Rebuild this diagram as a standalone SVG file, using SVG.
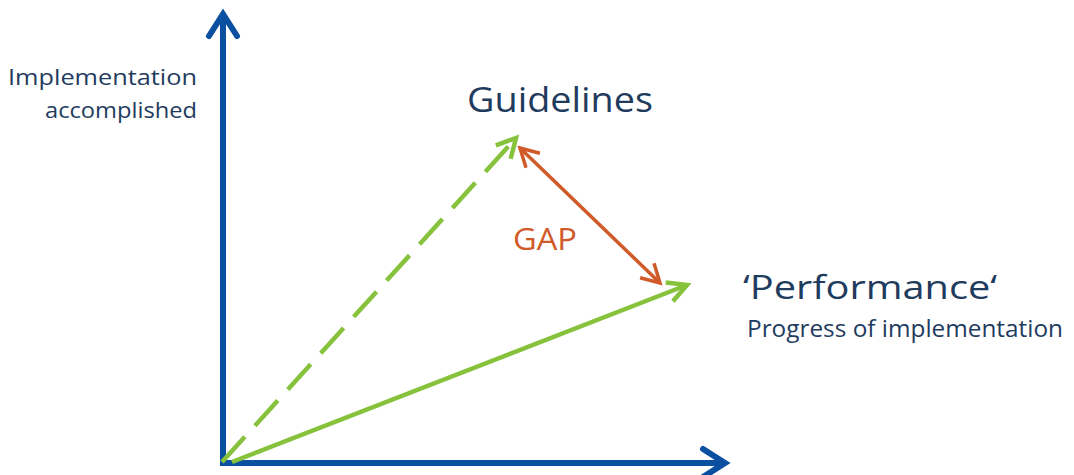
<svg xmlns="http://www.w3.org/2000/svg" width="1074" height="475" viewBox="0 0 1074 475">
<style>
.navy{fill:#1f3b5e;font-family:"Open Sans","Liberation Sans",sans-serif}
.gap{fill:#d05a28;font-family:"Open Sans","Liberation Sans",sans-serif}
.axis{stroke:#0b4fa0;stroke-width:6;fill:none}
.green{stroke:#86c23b;stroke-width:4.5;fill:none}
.orange{stroke:#d05a28;stroke-width:3.5;fill:none}
</style>
<defs>
<marker id="ab" markerUnits="userSpaceOnUse" markerWidth="60" markerHeight="60" refX="30" refY="30" orient="auto" viewBox="0 0 60 60">
<path d="M8,16 L30,30 L8,44" fill="none" stroke="#0b4fa0" stroke-width="6" stroke-linecap="round" stroke-linejoin="miter"/>
</marker>
<marker id="ag" markerUnits="userSpaceOnUse" markerWidth="60" markerHeight="60" refX="30" refY="30" orient="auto" viewBox="0 0 60 60">
<path d="M11,20 L30,30 L11,40" fill="none" stroke="#86c23b" stroke-width="4.5" stroke-linecap="butt" stroke-linejoin="miter"/>
</marker>
<marker id="ao" markerUnits="userSpaceOnUse" markerWidth="60" markerHeight="60" refX="30" refY="30" orient="auto-start-reverse" viewBox="0 0 60 60">
<path d="M12,20 L30,30 L12,40" fill="none" stroke="#d05a28" stroke-width="3.5" stroke-linecap="butt" stroke-linejoin="miter"/>
</marker>
</defs>
<g id="connectors">
<path class="axis" d="M223,466 L223,14" marker-end="url(#ab)"/>
<path class="axis" d="M220,463 L725,463" marker-end="url(#ab)"/>
<line class="green" x1="222" y1="462" x2="516" y2="138" stroke-dasharray="34 15" marker-end="url(#ag)"/>
<line class="green" x1="232" y1="462" x2="687" y2="285" marker-end="url(#ag)"/>
<line class="orange" x1="520" y1="148" x2="660" y2="283" marker-start="url(#ao)" marker-end="url(#ao)"/>
</g>
<g id="y-label">
<text class="navy" font-size="22" x="8" y="85" textLength="189" lengthAdjust="spacingAndGlyphs">Implementation</text>
<text class="navy" font-size="22" x="45" y="118" textLength="152" lengthAdjust="spacingAndGlyphs">accomplished</text>
</g>
<g id="guidelines">
<text class="navy" font-size="34" x="467" y="112" textLength="186" lengthAdjust="spacingAndGlyphs">Guidelines</text>
</g>
<g id="gap">
<text class="gap" font-size="31" x="513" y="250" textLength="64" lengthAdjust="spacingAndGlyphs">GAP</text>
</g>
<g id="performance">
<text class="navy" font-size="33" x="743" y="299" textLength="254" lengthAdjust="spacingAndGlyphs">‘Performance‘</text>
<text class="navy" font-size="23" x="747" y="337" textLength="316" lengthAdjust="spacingAndGlyphs">Progress of implementation</text>
</g>
</svg>
